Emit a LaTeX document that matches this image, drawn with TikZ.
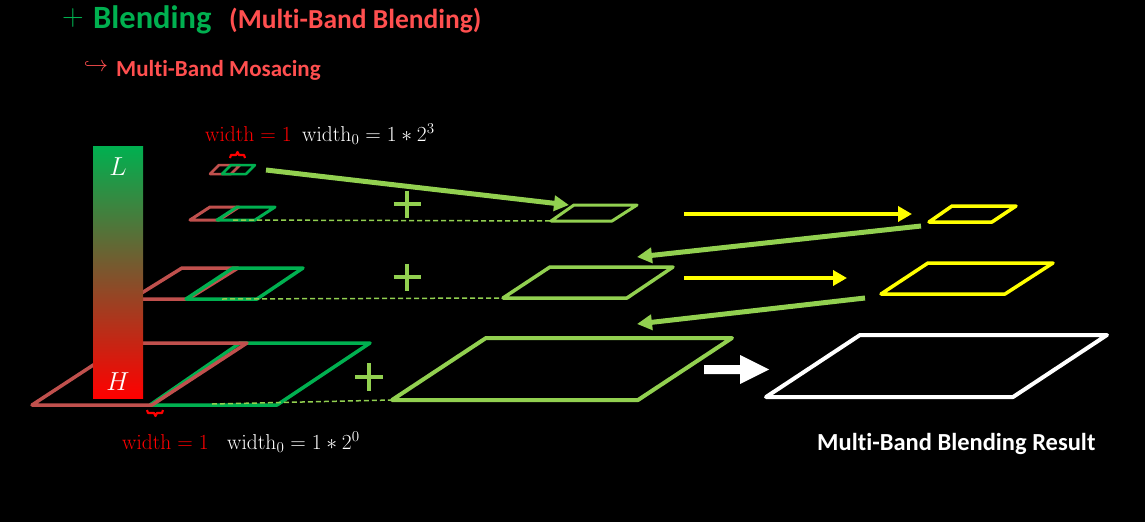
\RequirePackage{fix-cm}
\documentclass[tikz,border=0pt]{standalone}
\usepackage[no-math]{fontspec}
\setmainfont{Carlito}[RawFeature={-liga,-clig,-dlig}]
\usetikzlibrary{arrows.meta}
\definecolor{tgreen}{HTML}{00B050}
\definecolor{tred}{HTML}{FF4F4F}
\definecolor{pred}{HTML}{C0504D}
\definecolor{lgreen}{HTML}{92D050}
\definecolor{yel}{HTML}{FFFF00}
\definecolor{wred}{HTML}{FF0000}
\tikzset{
  redpar/.style={draw=pred, line width=3.5pt, line join=round},
  grnpar/.style={draw=tgreen, line width=3.5pt, line join=round},
  midpar/.style={draw=lgreen, line width=3.5pt, line join=round},
  yelpar/.style={draw=yel, line width=3.5pt, line join=round},
  whipar/.style={draw=white, line width=4pt, line join=round},
  dashln/.style={draw=lgreen, line width=1.5pt, dash pattern=on 5pt off 3pt},
  plusln/.style={draw=lgreen, line width=4.5pt},
  garrow/.style={draw=lgreen, line width=5pt, -{Triangle[length=15pt,width=15pt]}},
  yarrow/.style={draw=yel, line width=4.5pt, -{Triangle[length=14pt,width=15pt]}},
  brc/.style={draw=wred, line width=2.2pt, line join=round},
  txt/.style={anchor=base west, inner sep=0pt},
  wlab/.style={anchor=base west, inner sep=0pt, font=\fontsize{21.5}{24}\selectfont},
}
\begin{document}
\begin{tikzpicture}[x=1pt,y=-1pt]
\fill[black] (0,0) rectangle (1145,522);
\useasboundingbox (0,0) rectangle (1145,522);

% title
\node[text=tgreen, font=\fontsize{30}{34}\selectfont, inner sep=0pt] (plus) at (73,18) {$+$};
\node[txt, text=tgreen, font=\fontsize{32.5}{36}\selectfont\bfseries] (blend) at (93,28) {Blending};
\node[txt, text=tred, font=\fontsize{27.5}{32}\selectfont\bfseries] (mbb) at (229,28) {(Multi-Band Blending)};
\node[text=tred, font=\fontsize{22}{24}\selectfont, inner sep=0pt] (hook) at (96,67) {$\hookrightarrow$};
\node[txt, text=tred, font=\fontsize{23}{26}\selectfont\bfseries] (mbm) at (116,76) {Multi-Band Mosacing};

% level 3 (bottom)
\draw[grnpar] (150,405) -- (277,405) -- (370,343) -- (240,343) -- cycle;
\draw[redpar] (32,405) -- (152,405) -- (247,343) -- (127,343) -- cycle;
% level 2
\draw[redpar] (132,299) -- (188,299) -- (238,268) -- (182,268) -- cycle;
\draw[grnpar] (186,299) -- (257,299) -- (303,268) -- (233,268) -- cycle;
% level 1
\draw[redpar, line width=3pt] (190,220) -- (219,220) -- (239,207) -- (210,207) -- cycle;
\draw[grnpar, line width=3pt] (217,220) -- (255,220) -- (275,207) -- (237,207) -- cycle;
% level 0
\draw[redpar, line width=2.5pt] (210,174) -- (231,174) -- (240,165) -- (219,165) -- cycle;
\draw[grnpar, line width=2.5pt] (222,174) -- (246,174) -- (255,165) -- (231,165) -- cycle;

% gradient bar
\node[minimum width=50pt, minimum height=252pt, inner sep=0pt, top color=tgreen, bottom color=wred, middle color={rgb,255:red,125;green,85;blue,45}] (bar) at (118,272) {};
\node[text=white, font=\fontsize{26}{30}\selectfont, inner sep=0pt] (L) at (118,167) {$L$};
\node[text=white, font=\fontsize{26}{30}\selectfont, inner sep=0pt] (H) at (118,382) {$H$};

% braces
\draw[brc] (230,158) -- (231,155) -- (236,155) -- (237.5,152) -- (239,155) -- (244,155) -- (245,158);
\draw[brc] (147,410) -- (148,413) -- (154,413) -- (155.5,416) -- (157,413) -- (162,413) -- (163,410);

% width labels
\node[wlab, text=wred] (w1) at (205,141) {$\mathrm{width}=1$};
\node[wlab, text=white] (w1b) at (302,141) {$\mathrm{width}_0=1*2^3$};
\node[wlab, text=wred] (w2) at (122,449) {$\mathrm{width}=1$};
\node[wlab, text=white] (w2b) at (227,449) {$\mathrm{width}_0=1*2^0$};

% middle pyramid
\coordinate (m1bl) at (551,221);
\coordinate (m2bl) at (503,298);
\coordinate (m3bl) at (392,400);
\draw[midpar, line width=3pt] (m1bl) -- (612,221) -- (637,205) -- (574,205) -- cycle;
\draw[midpar] (m2bl) -- (627,298) -- (673,267) -- (550,267) -- cycle;
\draw[midpar, line width=4pt] (m3bl) -- (638,400) -- (732,338) -- (486,338) -- cycle;

% dashed lines
\coordinate (d1s) at (233,220);
\coordinate (d2s) at (222,299);
\coordinate (d3s) at (212,404);
\draw[dashln] (d1s) -- (m1bl);
\draw[dashln] (d2s) -- (m2bl);
\draw[dashln] (d3s) -- (m3bl);

% plus signs
\draw[plusln] (393.5,204) -- (420.5,204) (407,190.5) -- (407,217.5);
\draw[plusln] (393.5,277) -- (420.5,277) (407,263.5) -- (407,290.5);
\draw[plusln] (355,377) -- (383,377) (369,363) -- (369,391);

% green arrows
\coordinate (a1s) at (266,170);
\coordinate (a1e) at (569,205);
\coordinate (a2s) at (921,226);
\coordinate (a2e) at (637,257);
\coordinate (a3s) at (865,298);
\coordinate (a3e) at (637,324);
\draw[garrow] (a1s) -- (a1e);
\draw[garrow] (a2s) -- (a2e);
\draw[garrow] (a3s) -- (a3e);

% yellow arrows
\coordinate (y1s) at (684,214);
\coordinate (y1e) at (912,214);
\coordinate (y2s) at (684,278);
\coordinate (y2e) at (847,278);
\draw[yarrow] (y1s) -- (y1e);
\draw[yarrow] (y2s) -- (y2e);

% yellow parallelograms
\draw[yelpar] (929,222) -- (992,222) -- (1016,206) -- (952,206) -- cycle;
\draw[yelpar] (881,294) -- (1005,294) -- (1053,263) -- (928,263) -- cycle;

% white block arrow
\fill[white] (704,365) -- (740,365) -- (740,355) -- (769,369.5) -- (740,384) -- (740,374) -- (704,374) -- cycle;
% white result
\draw[whipar] (766,397) -- (1013,397) -- (1107,335) -- (860,335) -- cycle;
\node[txt, text=white, font=\fontsize{24.5}{28}\selectfont\bfseries] (res) at (817,450) {Multi-Band Blending Result};
\end{tikzpicture}
\end{document}
